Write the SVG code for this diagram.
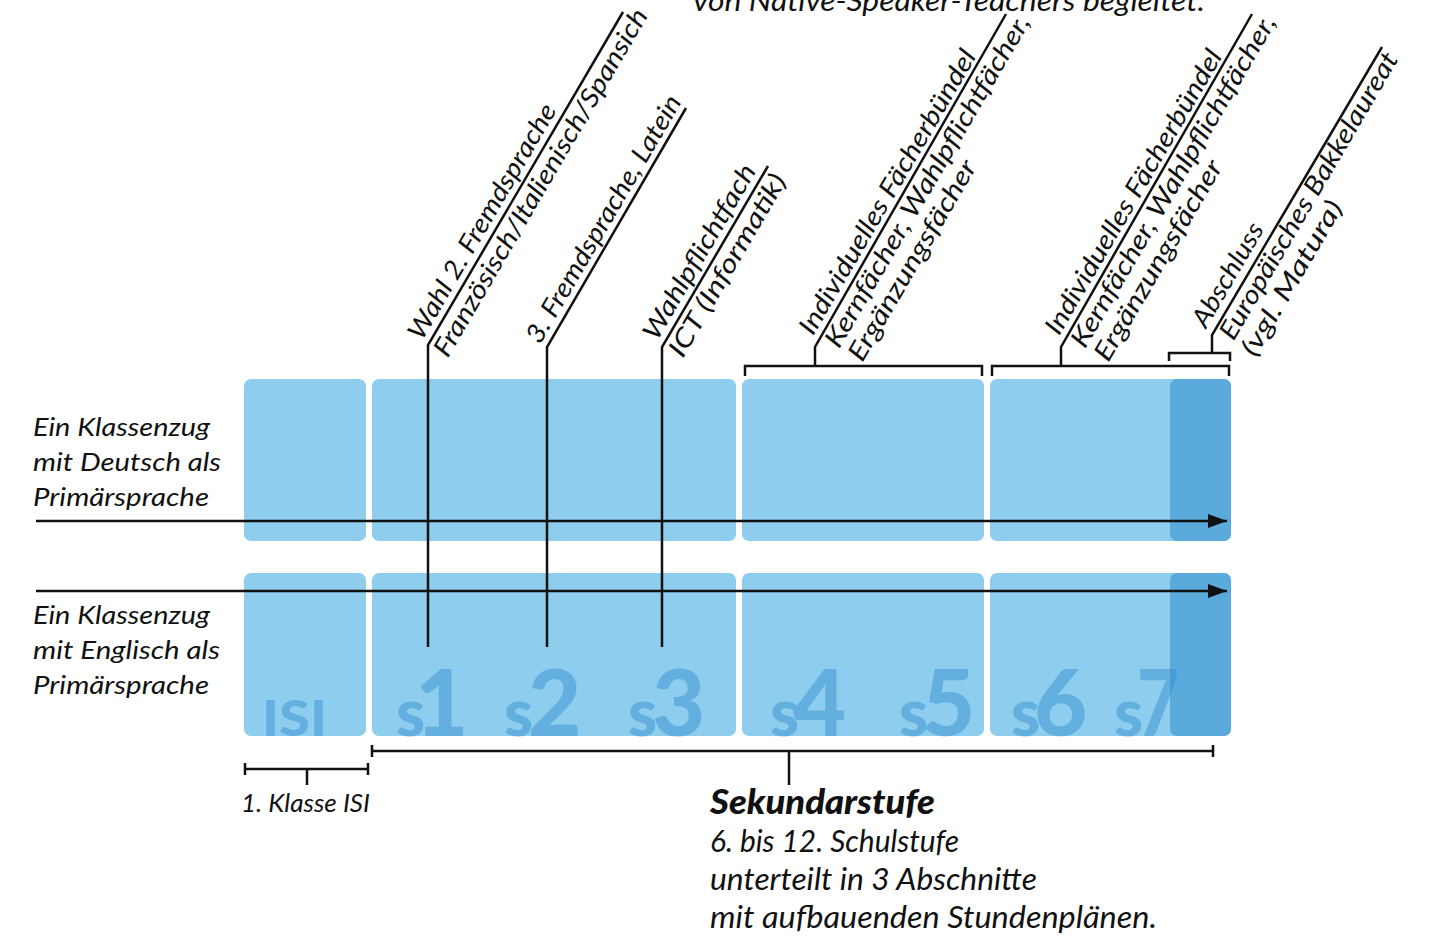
<svg xmlns="http://www.w3.org/2000/svg" width="1430" height="936" viewBox="0 0 1430 936">
<style>
.blk{fill:#8ECDED}
.dark{fill:#5AAADC}
.big{font-family:Lato,'Open Sans','DejaVu Sans',sans-serif;font-weight:900;fill:#2C8CD0;fill-opacity:0.45}
.t{font-family:Lato,'Open Sans','Liberation Sans',sans-serif;font-style:italic;fill:#111}
.lbl{font-family:Lato,'Open Sans','Liberation Sans',sans-serif;font-style:italic;font-size:26px;fill:#111}
.ln{fill:none;stroke:#111;stroke-width:2.5}
</style>
<defs>
<marker id="ah" markerUnits="userSpaceOnUse" markerWidth="20" markerHeight="16" refX="19" refY="7" orient="auto">
<path d="M0,0 L19,7 L0,14 Z" fill="#111"/>
</marker>
</defs>
<rect width="1430" height="936" fill="#fff"/>

<text class="t" x="693" y="11" font-size="29" textLength="512" lengthAdjust="spacingAndGlyphs">von Native-Speaker-Teachers begleitet.</text>

<g id="row-deutsch">
<rect id="d-isi" class="blk" x="244" y="379" width="122" height="162" rx="7"/>
<rect id="d-s123" class="blk" x="372" y="379" width="364" height="162" rx="7"/>
<rect id="d-s45" class="blk" x="742" y="379" width="242" height="162" rx="7"/>
<rect id="d-s67" class="blk" x="990" y="379" width="241" height="162" rx="7"/>
<rect id="d-abschluss" class="dark" x="1170" y="379" width="61" height="162" rx="7"/>
</g>
<g id="row-englisch">
<rect id="e-isi" class="blk" x="244" y="573" width="122" height="163" rx="7"/>
<rect id="e-s123" class="blk" x="372" y="573" width="364" height="163" rx="7"/>
<rect id="e-s45" class="blk" x="742" y="573" width="242" height="163" rx="7"/>
<rect id="e-s67" class="blk" x="990" y="573" width="241" height="163" rx="7"/>
<rect id="e-abschluss" class="dark" x="1170" y="573" width="61" height="163" rx="7"/>
</g>

<g id="stufen">
<text class="big" x="262" y="736" font-size="50" textLength="65" lengthAdjust="spacingAndGlyphs">ISI</text>
<text class="big" y="736"><tspan x="396" font-size="66">s</tspan><tspan x="415" font-size="92">1</tspan></text>
<text class="big" y="736"><tspan x="504" font-size="66">s</tspan><tspan x="528" font-size="92">2</tspan></text>
<text class="big" y="736"><tspan x="628" font-size="66">s</tspan><tspan x="652" font-size="92">3</tspan></text>
<text class="big" y="736"><tspan x="770" font-size="66">s</tspan><tspan x="793" font-size="92">4</tspan></text>
<text class="big" y="736"><tspan x="899" font-size="66">s</tspan><tspan x="922" font-size="92">5</tspan></text>
<text class="big" y="736"><tspan x="1011" font-size="66">s</tspan><tspan x="1034" font-size="92">6</tspan></text>
<text class="big" y="736"><tspan x="1114" font-size="66">s</tspan><tspan x="1137" font-size="92" textLength="42" lengthAdjust="spacingAndGlyphs">7</tspan></text>
</g>

<g id="label-deutsch">
<text class="t" x="33" y="436" font-size="26" textLength="177" lengthAdjust="spacingAndGlyphs">Ein Klassenzug</text>
<text class="t" x="33" y="471" font-size="26" textLength="188" lengthAdjust="spacingAndGlyphs">mit Deutsch als</text>
<text class="t" x="33" y="506" font-size="26" textLength="176" lengthAdjust="spacingAndGlyphs">Primärsprache</text>
</g>
<g id="label-englisch">
<text class="t" x="33" y="624" font-size="26" textLength="177" lengthAdjust="spacingAndGlyphs">Ein Klassenzug</text>
<text class="t" x="33" y="659" font-size="26" textLength="187" lengthAdjust="spacingAndGlyphs">mit Englisch als</text>
<text class="t" x="33" y="694" font-size="26" textLength="176" lengthAdjust="spacingAndGlyphs">Primärsprache</text>
</g>

<g id="connectors">
<path class="ln" d="M36,521 H1227" marker-end="url(#ah)"/>
<path class="ln" d="M36,591 H1227" marker-end="url(#ah)"/>
<path class="ln" d="M428,647 V345 L623,12"/>
<path class="ln" d="M547,647 V347 L686,108"/>
<path class="ln" d="M662,647 V347 L768,166"/>
<path class="ln" d="M745,376 V366 H982 V376 M815,366 V347 L1006,14"/>
<path class="ln" d="M992,376 V366 H1229 V376 M1061,366 V347 L1252,14"/>
<path class="ln" d="M1169,361 V353 H1230 V361 M1212,353 V335 L1382,47"/>
<path class="ln" d="M372,745 V757 M372,751 H1213 M1213,745 V757 M789,751 V785"/>
<path class="ln" d="M245,763 V775 M245,769 H368 M368,763 V775 M307,769 V785"/>
</g>

<g id="label-fremdsprache2" transform="translate(428,345) rotate(-59.7)">
<text class="lbl" x="0" y="-7" textLength="268" lengthAdjust="spacingAndGlyphs">Wahl 2. Fremdsprache</text>
<text class="lbl" x="-2" y="24" textLength="398" lengthAdjust="spacingAndGlyphs">Französisch/Italienisch/Spansich</text>
</g>
<g id="label-fremdsprache3" transform="translate(547,347) rotate(-59.7)">
<text class="lbl" x="-2" y="-7" textLength="282" lengthAdjust="spacingAndGlyphs">3. Fremdsprache, Latein</text>
</g>
<g id="label-ict" transform="translate(662,347) rotate(-59.7)">
<text class="lbl" x="2" y="-7" textLength="198" lengthAdjust="spacingAndGlyphs">Wahlpflichtfach</text>
<text class="lbl" x="0" y="24" textLength="207" lengthAdjust="spacingAndGlyphs">ICT  (Informatik)</text>
</g>
<g id="label-faecher1" transform="translate(815,347) rotate(-59.7)">
<text class="lbl" x="8" y="-7" textLength="325" lengthAdjust="spacingAndGlyphs">Individuelles Fächerbündel</text>
<text class="lbl" x="10" y="22" textLength="380" lengthAdjust="spacingAndGlyphs">Kernfächer, Wahlpflichtfächer,</text>
<text class="lbl" x="10" y="49" textLength="228" lengthAdjust="spacingAndGlyphs">Ergänzungsfächer</text>
</g>
<g id="label-faecher2" transform="translate(1061,347) rotate(-59.7)">
<text class="lbl" x="8" y="-7" textLength="325" lengthAdjust="spacingAndGlyphs">Individuelles Fächerbündel</text>
<text class="lbl" x="10" y="22" textLength="380" lengthAdjust="spacingAndGlyphs">Kernfächer, Wahlpflichtfächer,</text>
<text class="lbl" x="10" y="49" textLength="228" lengthAdjust="spacingAndGlyphs">Ergänzungsfächer</text>
</g>
<g id="label-abschluss" transform="translate(1212,335) rotate(-59.7)">
<text class="lbl" x="2" y="-8" textLength="116" lengthAdjust="spacingAndGlyphs">Abschluss</text>
<text class="lbl" x="5" y="22" textLength="328" lengthAdjust="spacingAndGlyphs">Europäisches Bakkelaureat</text>
<text class="lbl" x="2" y="49" textLength="175" lengthAdjust="spacingAndGlyphs">(vgl. Matura)</text>
</g>

<g id="label-isi">
<text class="t" x="241" y="812" font-size="26" textLength="129" lengthAdjust="spacingAndGlyphs">1. Klasse ISI</text>
</g>
<g id="label-sekundarstufe">
<text class="t" x="710" y="814" font-size="35" font-weight="900" textLength="225" lengthAdjust="spacingAndGlyphs">Sekundarstufe</text>
<text class="t" x="710" y="852" font-size="30" textLength="249" lengthAdjust="spacingAndGlyphs">6. bis 12. Schulstufe</text>
<text class="t" x="710" y="890" font-size="30" textLength="327" lengthAdjust="spacingAndGlyphs">unterteilt in 3 Abschnitte</text>
<text class="t" x="710" y="928" font-size="30" textLength="447" lengthAdjust="spacingAndGlyphs">mit aufbauenden Stundenplänen.</text>
</g>
</svg>
